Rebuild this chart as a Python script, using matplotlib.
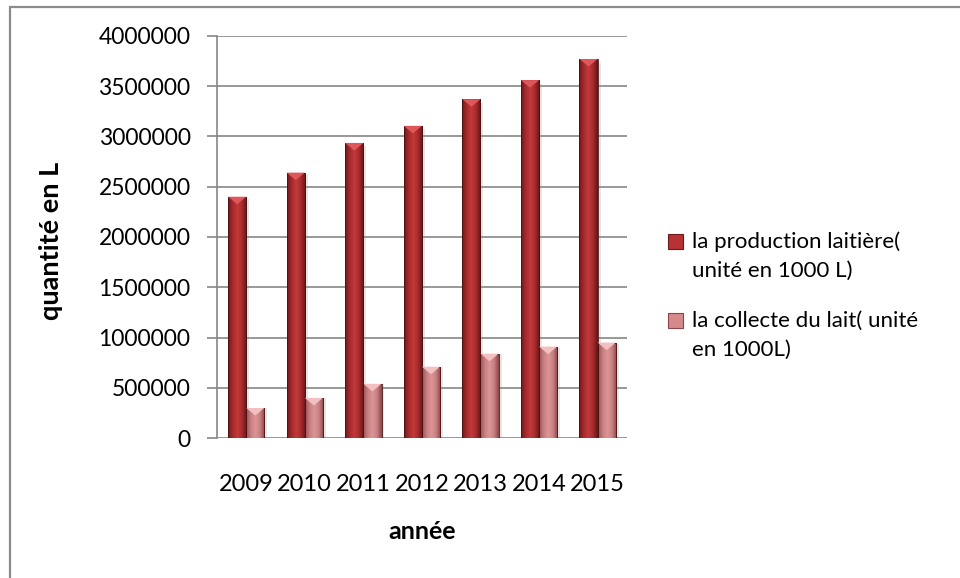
import numpy as np
import matplotlib.pyplot as plt
from matplotlib.colors import LinearSegmentedColormap
from matplotlib.patches import Rectangle, Polygon
from matplotlib.ticker import StrMethodFormatter

years = ['2009', '2010', '2011', '2012', '2013', '2014', '2015']
production = [2400000, 2640000, 2935000, 3105000, 3370000, 3560000, 3770000]
collecte = [300000, 400000, 540000, 710000, 840000, 910000, 950000]
labels = [['la production laitière(', 'unité en 1000 L)'],
          ['la collecte du lait( unité', 'en 1000L)']]

plt.rcParams['font.family'] = ['Lato', 'DejaVu Sans']

fig = plt.figure(figsize=(9.6, 5.78), dpi=100)
ax = fig.add_axes([0.226, 0.242, 0.427, 0.696])

# outer chart frame (cut off on the right and bottom)
fig.patches.append(Rectangle((10 / 960, -0.1), 1.2, 1 - 7 / 578 + 0.1,
                             transform=fig.transFigure, fill=False,
                             edgecolor='#8c8c8c', linewidth=1.6))

red_cmap = LinearSegmentedColormap.from_list(
    'r', ['#6e1a1c', '#a82a2c', '#c23a3c', '#a82a2c', '#5e1618'])
pink_cmap = LinearSegmentedColormap.from_list(
    'p', ['#9a5052', '#c98082', '#dc9698', '#c98082', '#8a4648'])

x = np.arange(len(years))
w = 0.31
grad = np.linspace(0, 1, 64).reshape(1, -1)


def draw_bars(xs, vals, cmap, top_color):
    for xc, v in zip(xs, vals):
        x0, x1 = xc - w / 2, xc + w / 2
        # soft shadow on the right
        ax.add_patch(Rectangle((x1, 0), 0.05, v * 0.99, facecolor='#999999',
                               edgecolor='none', alpha=0.25, zorder=2))
        rect = Rectangle((x0, 0), w, v, facecolor='none',
                         edgecolor='#4a1214', linewidth=0.6, zorder=4)
        ax.add_patch(rect)
        im = ax.imshow(grad, cmap=cmap, extent=(x0, x1, 0, v),
                       aspect='auto', zorder=3, interpolation='bicubic')
        im.set_clip_path(rect)
        d = 75000
        ax.add_patch(Polygon([(x0, v), (x1, v), (xc, v - d)],
                             closed=True, facecolor=top_color,
                             edgecolor='none', zorder=5))


draw_bars(x - w / 2, production, red_cmap, '#e0575b')
draw_bars(x + w / 2, collecte, pink_cmap, '#f3c0c2')

ax.set_xlim(-0.5, len(years) - 0.5)
ax.set_ylim(0, 4000000)
ax.set_yticks(np.arange(0, 4000001, 500000))
ax.yaxis.set_major_formatter(StrMethodFormatter('{x:.0f}'))
ax.set_xticks(x)
ax.set_xticklabels(years)
ax.grid(axis='y', color='#868686', linewidth=1.2, zorder=0)
ax.set_axisbelow(True)
for s in ['top', 'right', 'bottom']:
    ax.spines[s].set_visible(False)
ax.spines['left'].set_color('#868686')
ax.spines['left'].set_linewidth(1.2)
ax.tick_params(axis='y', length=7, width=1.2, color='#868686', pad=12,
               labelsize=16.5)
ax.tick_params(axis='x', length=0, pad=26, labelsize=17)

ax.set_xlabel('année', fontsize=18, fontweight='bold', labelpad=18)
ax.set_ylabel('quantité en L', fontsize=19.5, fontweight='bold')
ax.yaxis.set_label_coords(-0.376, 0.49)

# legend drawn by hand so the swatch sits on the first text line
swatch = [('#b83234', '#6e1a1c'), ('#d48a8c', '#8a4648')]
baselines = [248, 327]
for (fc, ec), lines, base in zip(swatch, labels, baselines):
    fig.patches.append(Rectangle((668 / 960, 1 - (base + 1) / 578),
                                 15 / 960, 15 / 578,
                                 transform=fig.transFigure,
                                 facecolor=fc, edgecolor=ec, linewidth=0.8))
    for i, line in enumerate(lines):
        fig.text(692 / 960, 1 - (base + 29 * i) / 578, line,
                 fontsize=16, va='baseline', ha='left')

fig.savefig('out.png', dpi=100)
